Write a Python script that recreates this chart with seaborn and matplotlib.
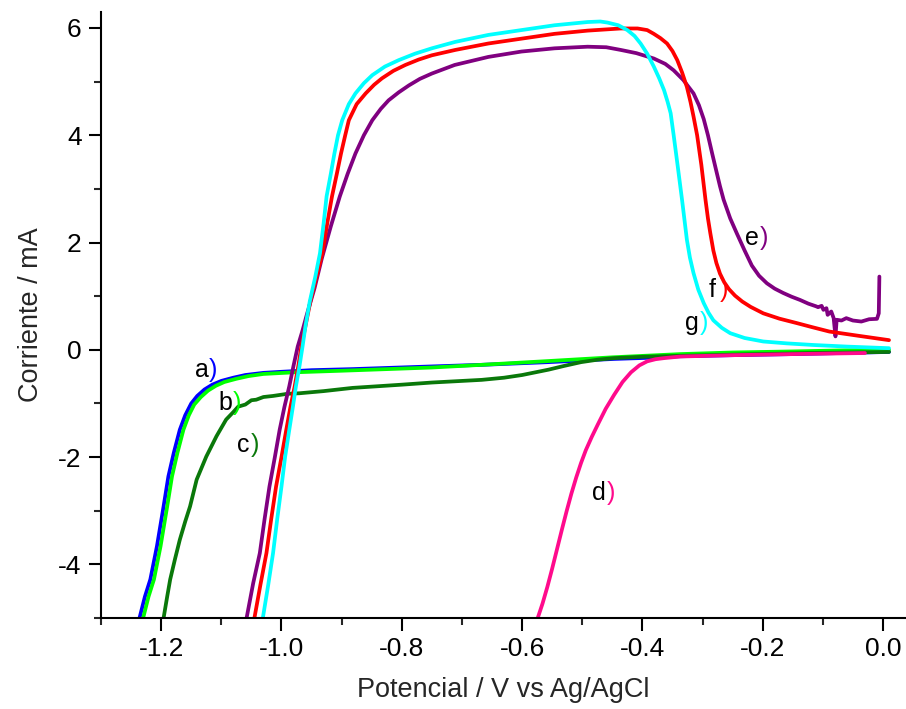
import numpy as np
import pandas as pd
import matplotlib
matplotlib.use("Agg")
import matplotlib.pyplot as plt
from matplotlib.ticker import MultipleLocator
import seaborn as sns

# ---------------- data ----------------
a_x = [-1.236, -1.227, -1.218, -1.207, -1.196, -1.188, -1.179, -1.169, -1.160, -1.150, -1.140, -1.128,
       -1.115, -1.100, -1.080, -1.060, -1.030, -1.000, -0.950, -0.882, -0.750, -0.667, -0.557, -0.502,
       -0.447, -0.392, -0.337, -0.250, -0.150, -0.070, 0.010]
a_y = [-5.00, -4.60, -4.28, -3.66, -2.92, -2.36, -1.92, -1.49, -1.22, -1.00, -0.86, -0.74,
       -0.65, -0.58, -0.52, -0.47, -0.43, -0.41, -0.38, -0.36, -0.31, -0.28, -0.23, -0.20,
       -0.17, -0.15, -0.12, -0.10, -0.08, -0.06, -0.04]

b_x = [-1.230, -1.221, -1.212, -1.201, -1.190, -1.182, -1.173, -1.163, -1.154, -1.145, -1.134, -1.122,
       -1.109, -1.095, -1.075, -1.055, -1.030, -0.980, -0.900, -0.750, -0.667, -0.557, -0.450, -0.337,
       -0.250, -0.150, -0.064, 0.010]
b_y = [-5.00, -4.60, -4.28, -3.66, -2.92, -2.36, -1.92, -1.49, -1.22, -1.02, -0.88, -0.76,
       -0.67, -0.60, -0.54, -0.49, -0.45, -0.42, -0.39, -0.33, -0.28, -0.21, -0.14, -0.08,
       -0.05, -0.03, -0.01, 0.00]

c_x = [-1.196, -1.190, -1.185, -1.177, -1.169, -1.160, -1.152, -1.141, -1.125, -1.108, -1.092, -1.080,
       -1.072, -1.060, -1.050, -1.042, -1.030, -1.014, -0.990, -0.970, -0.930, -0.882, -0.800, -0.750,
       -0.700, -0.667, -0.630, -0.600, -0.578, -0.556, -0.530, -0.502, -0.475, -0.447, -0.400, -0.365,
       -0.250, -0.120, 0.010]
c_y = [-5.00, -4.60, -4.28, -3.90, -3.54, -3.20, -2.92, -2.42, -1.99, -1.61, -1.30, -1.16,
       -1.06, -1.02, -0.94, -0.93, -0.88, -0.86, -0.82, -0.81, -0.77, -0.71, -0.65, -0.61,
       -0.58, -0.56, -0.52, -0.47, -0.42, -0.37, -0.30, -0.23, -0.185, -0.155, -0.13, -0.12,
       -0.09, -0.06, -0.04]

d_x = [-0.574, -0.566, -0.558, -0.550, -0.542, -0.534, -0.526, -0.518, -0.510, -0.502, -0.494, -0.484,
       -0.474, -0.461, -0.447, -0.433, -0.419, -0.405, -0.392, -0.378, -0.364, -0.337, -0.250, -0.150,
       -0.030]
d_y = [-5.00, -4.73, -4.42, -4.08, -3.72, -3.36, -3.01, -2.68, -2.38, -2.11, -1.87, -1.62,
       -1.39, -1.10, -0.84, -0.60, -0.42, -0.29, -0.215, -0.175, -0.155, -0.125, -0.10, -0.08,
       -0.06]

e_x = [-1.058, -1.047, -1.036, -1.028, -1.020, -1.011, -1.003, -0.995, -0.987, -0.980, -0.973, -0.965,
       -0.958, -0.945, -0.933, -0.918, -0.903, -0.890, -0.877, -0.863, -0.849, -0.835, -0.822, -0.805,
       -0.788, -0.770, -0.750, -0.712, -0.656, -0.601, -0.546, -0.491, -0.460, -0.436, -0.410, -0.381,
       -0.362, -0.348, -0.332, -0.315, -0.306, -0.298, -0.291, -0.284, -0.277, -0.271, -0.265, -0.254,
       -0.243, -0.230, -0.218, -0.206, -0.193, -0.180, -0.166, -0.152, -0.138, -0.124, -0.111, -0.108,
       -0.102, -0.099, -0.094, -0.092, -0.086, -0.082, -0.079, -0.077, -0.069, -0.061, -0.050, -0.036,
       -0.023, -0.010, -0.007, -0.006]
e_y = [-5.00, -4.35, -3.79, -3.15, -2.55, -2.00, -1.49, -1.06, -0.68, -0.30, 0.06, 0.36,
       0.65, 1.15, 1.70, 2.30, 2.86, 3.28, 3.66, 4.00, 4.28, 4.49, 4.65, 4.80,
       4.93, 5.05, 5.15, 5.31, 5.46, 5.56, 5.62, 5.65, 5.64, 5.59, 5.53, 5.43,
       5.33, 5.21, 5.03, 4.78, 4.56, 4.30, 4.00, 3.66, 3.33, 3.05, 2.80, 2.45,
       2.17, 1.85, 1.57, 1.38, 1.24, 1.14, 1.06, 0.99, 0.93, 0.86, 0.81, 0.795,
       0.819, 0.745, 0.776, 0.652, 0.714, 0.59, 0.25, 0.56, 0.546, 0.59, 0.546, 0.527,
       0.57, 0.577, 0.68, 1.365]

f_x = [-1.045, -1.035, -1.025, -1.017, -1.009, -1.000, -0.992, -0.985, -0.978, -0.972, -0.967, -0.960,
       -0.952, -0.942, -0.932, -0.924, -0.916, -0.908, -0.901, -0.894, -0.888, -0.875, -0.860, -0.846,
       -0.833, -0.814, -0.794, -0.772, -0.750, -0.711, -0.656, -0.601, -0.546, -0.491, -0.436, -0.408,
       -0.392, -0.381, -0.370, -0.359, -0.350, -0.342, -0.334, -0.326, -0.320, -0.315, -0.309, -0.302,
       -0.295, -0.291, -0.287, -0.282, -0.277, -0.271, -0.264, -0.256, -0.246, -0.234, -0.220, -0.199,
       -0.172, -0.144, -0.117, -0.089, -0.040, 0.010]
f_y = [-5.00, -4.38, -3.79, -3.15, -2.55, -2.00, -1.49, -1.06, -0.68, -0.30, 0.06, 0.45,
       0.90, 1.35, 1.80, 2.35, 2.86, 3.28, 3.66, 4.00, 4.28, 4.58, 4.78, 4.94,
       5.06, 5.20, 5.31, 5.41, 5.49, 5.59, 5.71, 5.80, 5.89, 5.95, 5.99, 5.99,
       5.96, 5.89, 5.81, 5.71, 5.57, 5.40, 5.17, 4.90, 4.62, 4.35, 4.00, 3.45,
       2.79, 2.45, 2.17, 1.85, 1.62, 1.42, 1.26, 1.13, 1.01, 0.90, 0.80, 0.68,
       0.58, 0.50, 0.42, 0.34, 0.26, 0.18]

g_x = [-1.031, -1.022, -1.014, -1.007, -1.000, -0.994, -0.987, -0.981, -0.976, -0.970, -0.965, -0.960,
       -0.953, -0.944, -0.936, -0.930, -0.925, -0.918, -0.912, -0.906, -0.899, -0.888, -0.877, -0.863,
       -0.849, -0.828, -0.805, -0.778, -0.750, -0.711, -0.656, -0.601, -0.546, -0.491, -0.470, -0.458,
       -0.440, -0.425, -0.413, -0.403, -0.392, -0.381, -0.372, -0.364, -0.358, -0.353, -0.348, -0.341,
       -0.334, -0.330, -0.326, -0.321, -0.315, -0.307, -0.298, -0.290, -0.282, -0.268, -0.254, -0.230,
       -0.199, -0.160, -0.116, -0.060, 0.010]
g_y = [-5.00, -4.38, -3.79, -3.15, -2.55, -2.00, -1.49, -1.06, -0.68, -0.30, 0.06, 0.45,
       0.90, 1.35, 1.80, 2.35, 2.86, 3.28, 3.66, 4.00, 4.28, 4.58, 4.78, 4.97,
       5.12, 5.28, 5.40, 5.52, 5.62, 5.74, 5.87, 5.96, 6.05, 6.11, 6.12, 6.10,
       6.05, 5.96, 5.85, 5.71, 5.52, 5.28, 5.06, 4.84, 4.62, 4.41, 4.00, 3.40,
       2.79, 2.42, 2.05, 1.72, 1.43, 1.12, 0.87, 0.69, 0.55, 0.41, 0.31, 0.22,
       0.155, 0.12, 0.09, 0.06, 0.03]

curve_names = ["a", "b", "c", "d", "e", "f", "g"]
curve_colors = ["#0000ff", "#00ff00", "#0a780a", "#ff0a8c", "#800080", "#ff0000", "#00ffff"]

label_pos_x = [-1.133, -1.094, -1.064, -0.472, -0.218, -0.284, -0.317]
label_pos_y = [-0.37, -0.99, -1.77, -2.67, 2.08, 1.12, 0.50]

x_ticks = [-1.2, -1.0, -0.8, -0.6, -0.4, -0.2, 0.0]
y_ticks = [-4, -2, 0, 2, 4, 6]

# ---------------- build table ----------------
all_x = [a_x, b_x, c_x, d_x, e_x, f_x, g_x]
all_y = [a_y, b_y, c_y, d_y, e_y, f_y, g_y]
frames = []
for n, xs, ys in zip(curve_names, all_x, all_y):
    frames.append(pd.DataFrame({"x": xs, "y": ys, "curve": n}))
df = pd.concat(frames, ignore_index=True)

sns.set_theme(style="ticks")
plt.rcParams["font.family"] = ["Liberation Sans", "DejaVu Sans"]

fig = plt.figure(figsize=(9.06, 7.09), dpi=100)
ax = fig.add_axes([0.1115, 0.1283, 0.887, 0.855])

sns.lineplot(data=df, x="x", y="y", hue="curve", units="curve", estimator=None, sort=False,
             palette=dict(zip(curve_names, curve_colors)), hue_order=curve_names,
             linewidth=2.7, legend=False, ax=ax)

ax.set_xlim(-1.3, 0.036)
ax.set_ylim(-5.0, 6.3)
ax.set_xticks(x_ticks)
ax.set_xticklabels([f"{v:.1f}" for v in x_ticks])
ax.set_yticks(y_ticks)
ax.set_yticklabels([str(v) for v in y_ticks])
ax.xaxis.set_minor_locator(MultipleLocator(0.1))
ax.yaxis.set_minor_locator(MultipleLocator(1))
ax.tick_params(which="major", direction="out", length=9, width=1.5, labelsize=19,
               colors="black", pad=5)
ax.tick_params(which="minor", direction="out", length=5, width=1.5)
for s in ["top", "right"]:
    ax.spines[s].set_visible(False)
for s in ["left", "bottom"]:
    ax.spines[s].set_linewidth(1.5)
    ax.spines[s].set_color("black")

ax.set_xlabel("Potencial / V vs Ag/AgCl", fontsize=19.5, labelpad=11)
ax.set_ylabel("Corriente / mA", fontsize=19.5, labelpad=10)

for n, c, lx, ly in zip(curve_names, curve_colors, label_pos_x, label_pos_y):
    ax.text(lx, ly, n, fontsize=18, color="black", ha="center", va="center")
    ax.annotate(")", xy=(lx, ly), xytext=(8.5, 0), textcoords="offset points",
                fontsize=18, color=c, ha="center", va="center")

fig.savefig("out.png", dpi=100)
